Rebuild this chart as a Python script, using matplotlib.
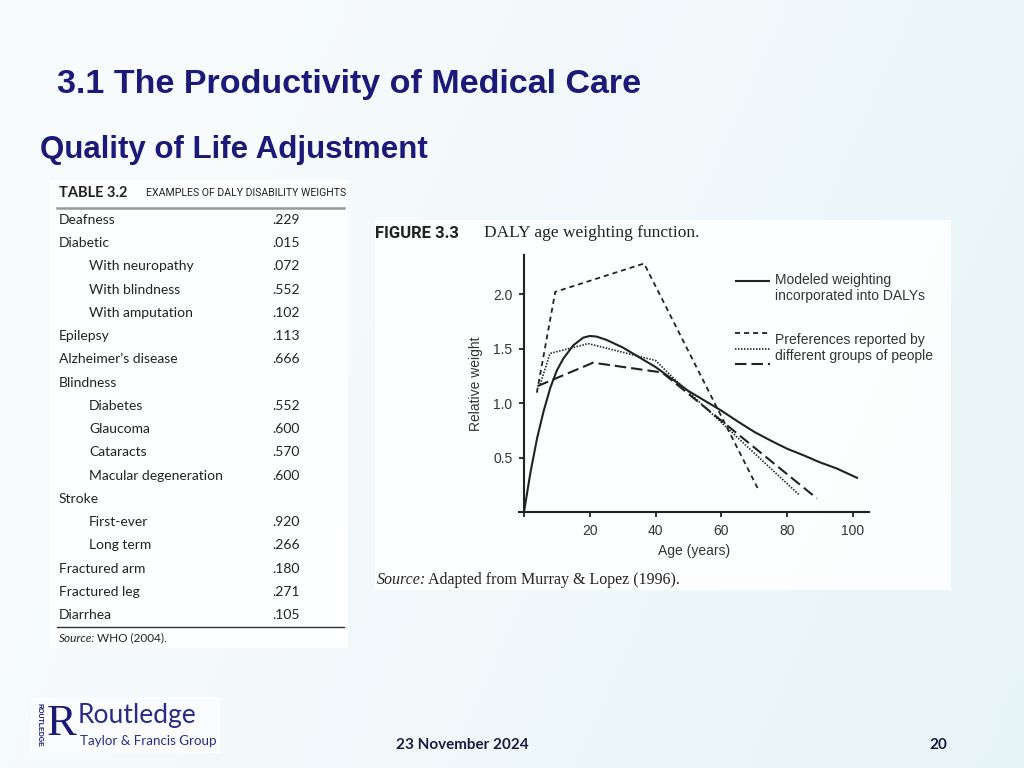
import numpy as np
import matplotlib
matplotlib.use('Agg')
import matplotlib.pyplot as plt
from matplotlib.lines import Line2D
from matplotlib.patches import Rectangle
from matplotlib.legend_handler import HandlerBase

plt.rcParams['font.family'] = ['Liberation Sans', 'DejaVu Sans']

W, H = 1024, 768
NAVY = '#1b1a78'

# Table 3.2: examples of DALY disability weights
conditions = ['Deafness', 'Diabetic', 'With neuropathy', 'With blindness', 'With amputation',
              'Epilepsy', 'Alzheimer\u2019s disease', 'Blindness', 'Diabetes', 'Glaucoma',
              'Cataracts', 'Macular degeneration', 'Stroke', 'First-ever', 'Long term',
              'Fractured arm', 'Fractured leg', 'Diarrhea']
indented = [0, 0, 1, 1, 1, 0, 0, 0, 1, 1, 1, 1, 0, 1, 1, 0, 0, 0]
weights = ['.229', '.015', '.072', '.552', '.102', '.113', '.666', '', '.552', '.600',
           '.570', '.600', '', '.920', '.266', '.180', '.271', '.105']

# Figure 3.3: DALY age weighting function
age_model = [0, 2, 4, 6, 8, 10, 12, 15, 18, 20, 22, 25, 30, 35, 40, 45, 50, 55, 60,
             65, 70, 75, 80, 85, 90, 95, 101.5]
weight_model = [0, 0.37, 0.68, 0.93, 1.14, 1.30, 1.41, 1.53, 1.60, 1.615, 1.61, 1.58,
                1.51, 1.42, 1.33, 1.22, 1.11, 1.02, 0.93, 0.83, 0.735, 0.655, 0.58,
                0.52, 0.455, 0.40, 0.31]
age_pref_a = [3.9, 9.5, 36.5, 71.0]
weight_pref_a = [1.095, 2.02, 2.28, 0.22]
age_pref_b = [4.9, 7.9, 19.5, 40.0, 44.0, 83.7]
weight_pref_b = [1.17, 1.455, 1.545, 1.39, 1.27, 0.155]
age_pref_c = [4.1, 21.0, 42.0, 89.0]
weight_pref_c = [1.155, 1.37, 1.28, 0.125]

x_ticks = [0, 20, 40, 60, 80, 100]
x_labels = ['', '20', '40', '60', '80', '100']
y_ticks = [0.5, 1.0, 1.5, 2.0]
y_labels = ['0.5', '1.0', '1.5', '2.0']


def fx(x):
    return x / W


def fy(y):
    return 1 - y / H


class StackedHandler(HandlerBase):
    # draws the handles of a tuple one above the other
    def __init__(self, step=1.1, shift=0.0):
        super().__init__()
        self.step = step
        self.shift = shift

    def create_artists(self, legend, orig_handle, xdescent, ydescent,
                       width, height, fontsize, trans):
        n = len(orig_handle)
        mid = (height - ydescent) / 2 + self.shift * fontsize
        out = []
        for i, h in enumerate(orig_handle):
            yc = mid + ((n - 1) / 2 - i) * self.step * fontsize
            ln = Line2D([-xdescent, -xdescent + width], [yc, yc])
            ln.update_from(h)
            ln.set_transform(trans)
            out.append(ln)
        return out


fig = plt.figure(figsize=(10.24, 7.68), dpi=100)

# slide background
bg = fig.add_axes([0, 0, 1, 1], zorder=-10)
gx, gy = np.meshgrid(np.linspace(0, 1, 256), np.linspace(0, 1, 192))
t = np.clip(0.75 * gx + 0.25 * gy - 0.15, 0, 1)
c0 = np.array([0.975, 0.988, 0.993])
c1 = np.array([0.895, 0.952, 0.968])
bg.imshow(c0 + (c1 - c0) * t[..., None], extent=[0, 1, 0, 1], aspect='auto', origin='upper')
bg.axis('off')

# titles
fig.text(fx(57), fy(84), '3.1 The Productivity of Medical Care', fontsize=24.5,
         fontweight='bold', color=NAVY, va='center')
fig.text(fx(40), fy(150), 'Quality of Life Adjustment', fontsize=22.5,
         fontweight='bold', color=NAVY, va='center')

# table panel
fig.add_artist(Rectangle((fx(50), fy(648)), 298 / W, 468 / H, transform=fig.transFigure,
                         fc='white', ec='none', alpha=0.85, zorder=0))
tfont = ['Lato', 'DejaVu Sans']
fig.text(fx(59), fy(193), 'TABLE 3.2', fontsize=10.5, fontweight='bold', family=tfont,
         color='#222222', va='center')
fig.text(fx(146), fy(193), 'EXAMPLES OF DALY DISABILITY WEIGHTS', fontsize=7.6,
         family=['Roboto', 'DejaVu Sans'], color='#222222', va='center')
fig.add_artist(Line2D([fx(57), fx(344)], [fy(208), fy(208)], transform=fig.transFigure,
                      color='#9a9a9a', lw=1.8))
for i, (name, ind, wt) in enumerate(zip(conditions, indented, weights)):
    yy = fy(220 + i * 23.24)
    fig.text(fx(89 if ind else 59), yy, name, fontsize=10, family=tfont,
             color='#222222', va='center')
    if wt:
        fig.text(fx(272), yy, wt, fontsize=10, family=tfont, color='#222222', va='center')
fig.add_artist(Line2D([fx(57), fx(344)], [fy(627), fy(627)], transform=fig.transFigure,
                      color='#333333', lw=1.0))
fig.text(fx(59), fy(638), 'Source:', fontsize=8.5, family=tfont, style='italic',
         color='#222222', va='center')
fig.text(fx(97), fy(638), 'WHO (2004).', fontsize=8.5, family=tfont,
         color='#222222', va='center')

# figure panel
fig.add_artist(Rectangle((fx(375), fy(590)), 576 / W, 370 / H, transform=fig.transFigure,
                         fc='white', ec='none', alpha=0.9, zorder=0))
fig.text(fx(375), fy(233), 'FIGURE 3.3', fontsize=12, fontweight='bold',
         family=['Roboto', 'DejaVu Sans'], color='#222222', va='center')
fig.text(fx(484), fy(233), 'DALY age weighting function.', fontsize=12.5,
         family=['Liberation Serif', 'DejaVu Serif'], color='#222222', va='center')
fig.text(fx(377), fy(580), 'Source:', fontsize=11.5, style='italic',
         family=['Liberation Serif', 'DejaVu Serif'], color='#222222', va='center')
fig.text(fx(428), fy(580), 'Adapted from Murray & Lopez (1996).', fontsize=11.5,
         family=['Liberation Serif', 'DejaVu Serif'], color='#222222', va='center')

# the chart itself
x_left = 524 - 1.5 * 3.29
ax = fig.add_axes([fx(x_left), 1 - 512 / H, 350.4 / W, 257.2 / H], zorder=2)
ax.set_facecolor('none')
ink = '#222222'
l_model, = ax.plot(age_model, weight_model, color=ink, lw=1.5, solid_capstyle='butt')
l_a, = ax.plot(age_pref_a, weight_pref_a, color=ink, lw=1.3, dashes=(2.8, 2.2))
l_b, = ax.plot(age_pref_b, weight_pref_b, color=ink, lw=1.2, dashes=(0.9, 0.9))
l_c, = ax.plot(age_pref_c, weight_pref_c, color=ink, lw=1.5, dashes=(5.5, 2.4))

ax.set_xlim(-1.5, 105)
ax.set_ylim(0, 2.36)
ax.spines['left'].set_position(('data', 0))
ax.spines['right'].set_visible(False)
ax.spines['top'].set_visible(False)
for s in ('left', 'bottom'):
    ax.spines[s].set_linewidth(1.5)
    ax.spines[s].set_color(ink)
ax.set_xticks(x_ticks)
ax.set_xticklabels(x_labels)
ax.set_yticks(y_ticks)
ax.set_yticklabels(y_labels)
ax.tick_params(direction='out', length=3.8, width=1.3, pad=4.5, labelsize=10,
               labelcolor='#333333', color=ink)
ax.set_xlabel('Age (years)', fontsize=10, color='#333333', labelpad=5)
ax.set_ylabel('Relative weight', fontsize=10, color='#333333', labelpad=7)

model_handle = (l_model,)
pref_handles = (l_a, l_b, l_c)
leg = ax.legend([model_handle, pref_handles],
                ['Modeled weighting\nincorporated into DALYs',
                 'Preferences reported by\ndifferent groups of people'],
                handler_map={model_handle: StackedHandler(shift=0.58),
                             pref_handles: StackedHandler(step=1.1)},
                loc='upper left', bbox_to_anchor=(fx(735), fy(273)),
                bbox_transform=fig.transFigure, frameon=False, fontsize=10,
                handlelength=2.5, handletextpad=0.35, labelspacing=2.13,
                borderpad=0, borderaxespad=0)
for txt in leg.get_texts():
    txt.set_color('#333333')

# logo and footer
fig.add_artist(Rectangle((fx(30), fy(753)), 190 / W, 56 / H, transform=fig.transFigure,
                         fc='white', ec='none', alpha=0.6, zorder=0))
fig.text(fx(39), fy(725), 'ROUTLEDGE', fontsize=5.0, fontweight='bold', rotation=-90,
         color=NAVY, ha='center', va='center')
fig.text(fx(62), fy(724), 'R', fontsize=32, family=['Liberation Serif', 'DejaVu Serif'],
         color=NAVY, ha='center', va='center')
fig.text(fx(78), fy(716), 'Routledge', fontsize=19, family=tfont, color='#2a2a88', va='center')
fig.text(fx(80), fy(741), 'Taylor & Francis Group', fontsize=9.6, family=tfont,
         color='#2a2a88', va='center')
fig.text(fx(462), fy(745), '23 November 2024', fontsize=11, fontweight='bold',
         family=tfont, color='#1a1a40', ha='center', va='center')
fig.text(fx(938), fy(745), '20', fontsize=11, fontweight='bold', family=tfont,
         color='#1a1a40', ha='center', va='center')

fig.savefig('out.png', dpi=100)
